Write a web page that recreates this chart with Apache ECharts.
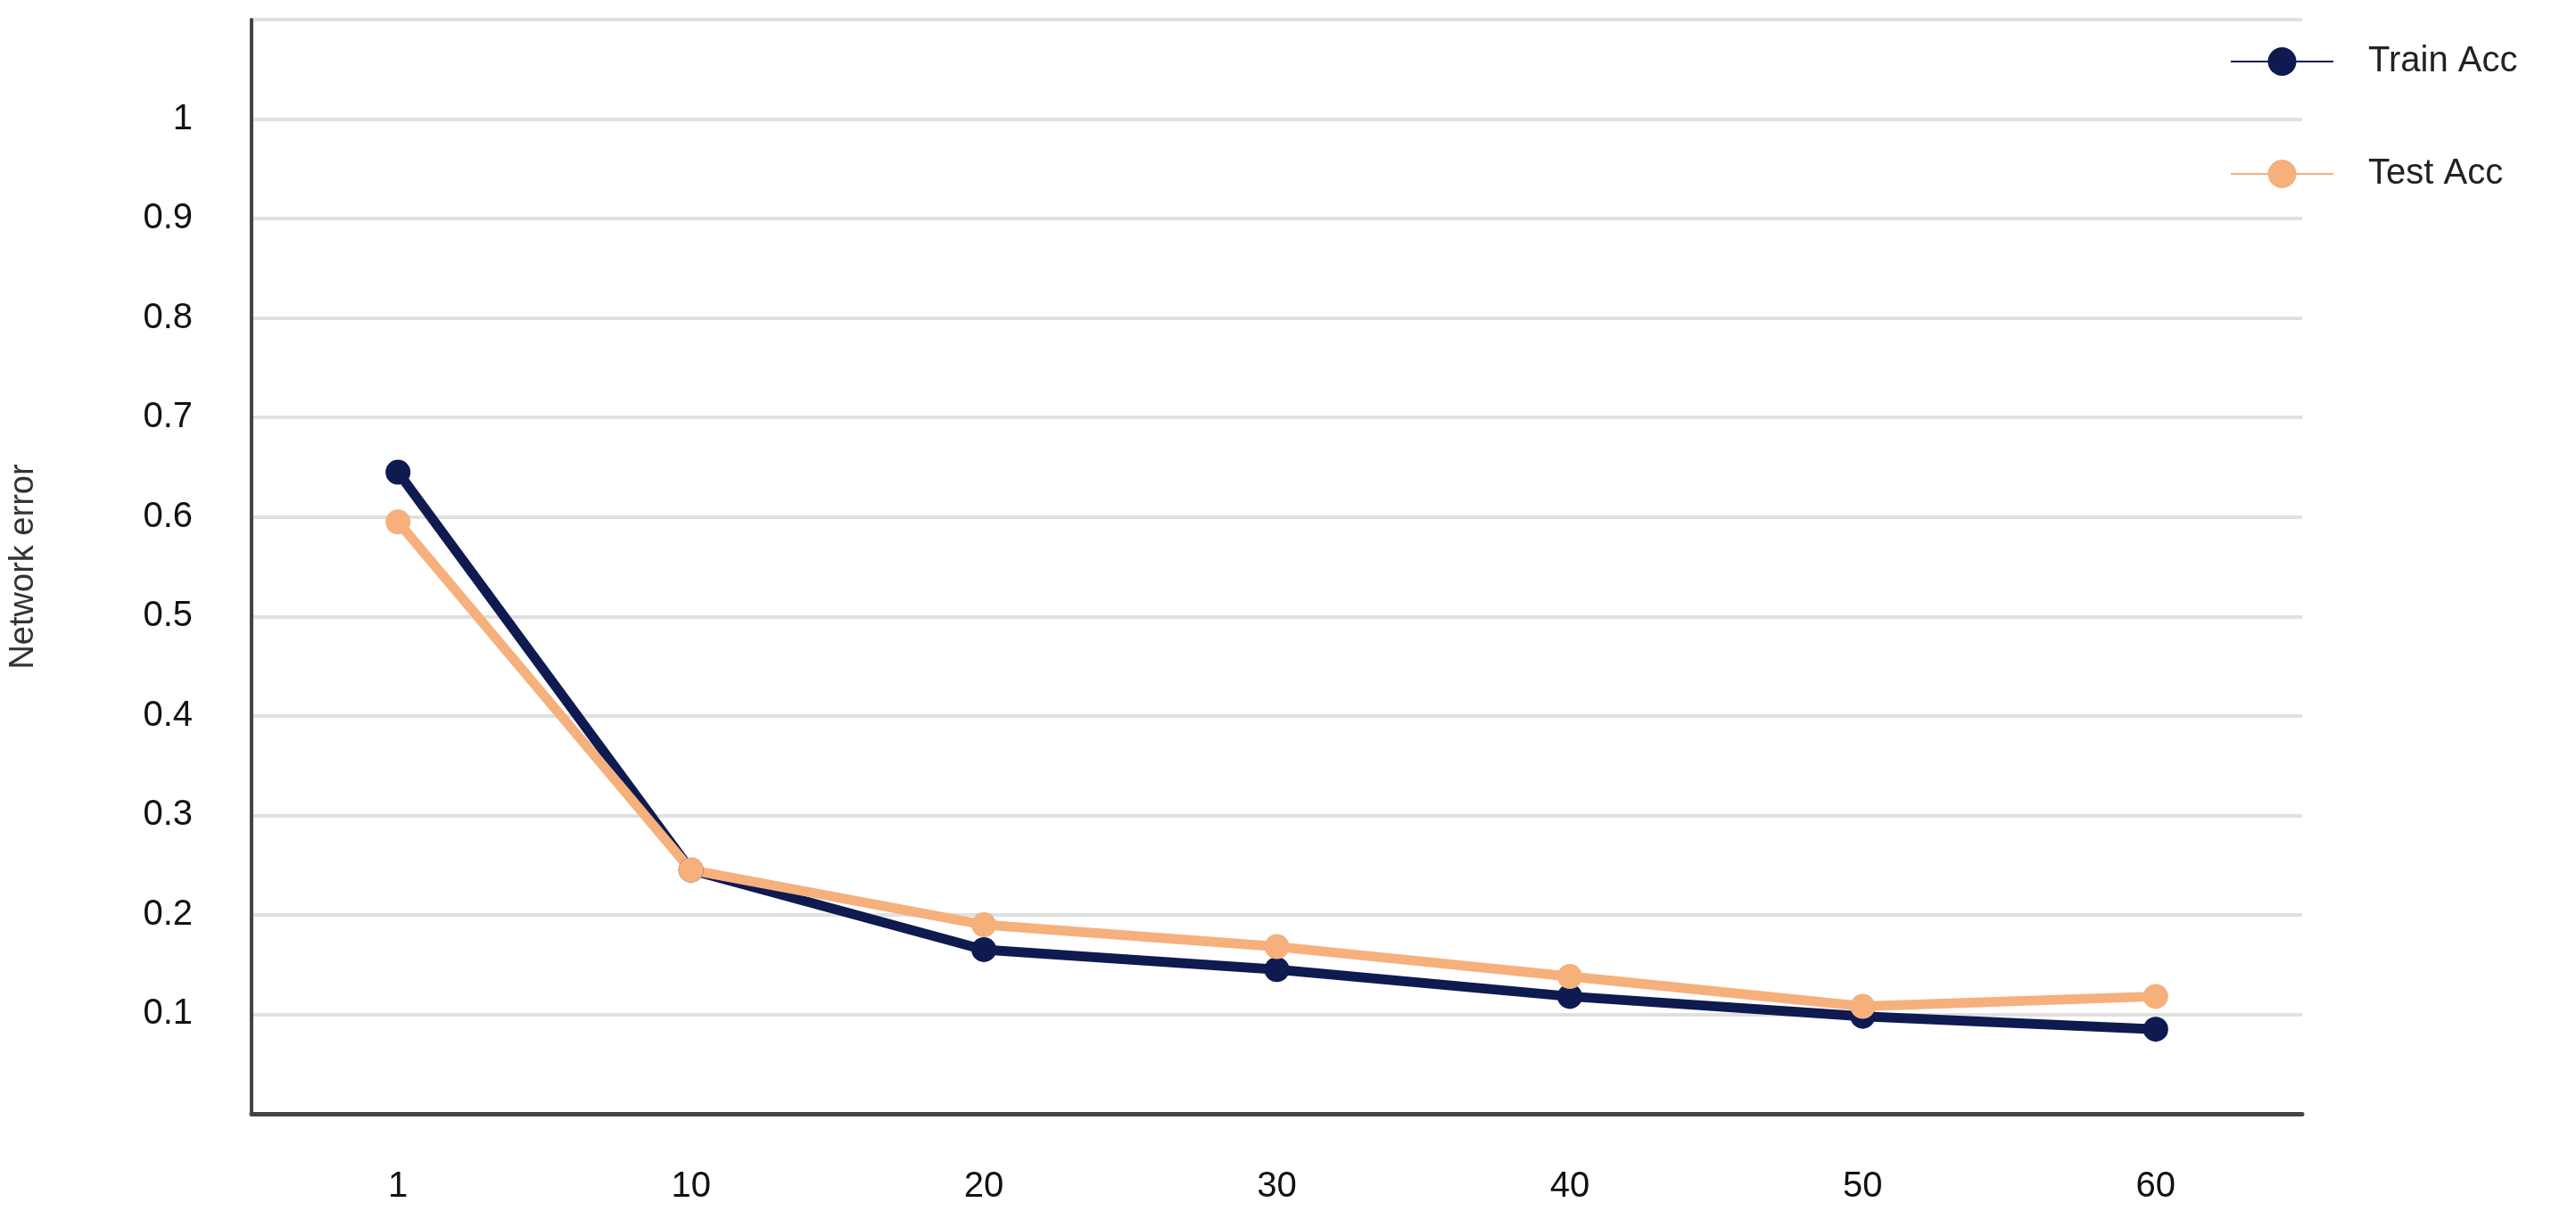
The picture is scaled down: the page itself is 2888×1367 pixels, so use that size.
<!DOCTYPE html>
<html><head><meta charset="utf-8">
<script src="https://cdn.jsdelivr.net/npm/echarts@6/dist/echarts.min.js"></script>
<style>html,body{margin:0;padding:0;background:#fff}#c{width:2888px;height:1367px}</style>
</head><body><div id="c"></div>
<script>
const categories = ['1','10','20','30','40','50','60'];
const trainAcc = [0.645, 0.245, 0.165, 0.145, 0.118, 0.098, 0.085];
const testAcc  = [0.595, 0.245, 0.19, 0.168, 0.138, 0.108, 0.118];
const yTicks = [0.1,0.2,0.3,0.4,0.5,0.6,0.7,0.8,0.9,1];

const chart = echarts.init(document.getElementById('c'));
const font = 'Liberation Sans, Arial, sans-serif';
chart.setOption({
  animation:false,
  grid:{left:273,right:307,top:22,bottom:118},
  legend:{
    orient:'vertical', left:2495, top:44, itemGap:86,
    itemWidth:115, itemHeight:40,
    textStyle:{fontSize:40,color:'#222',fontFamily:font,padding:[0,0,0,34]},
    data:['Train Acc','Test Acc']
  },
  xAxis:{
    type:'category', data:categories, boundaryGap:true,
    axisLine:{lineStyle:{color:'#444',width:5}},
    axisTick:{alignWithLabel:true,length:20,lineStyle:{color:'#444',width:3}},
    axisLabel:{fontSize:40,color:'#111',margin:62,fontFamily:font}
  },
  yAxis:{
    type:'value', min:0, max:1.1, interval:0.1,
    name:'Network error', nameLocation:'middle', nameGap:236, nameRotate:90,
    nameTextStyle:{fontSize:38,color:'#333',fontFamily:font},
    axisLine:{show:true,lineStyle:{color:'#444',width:4}},
    axisTick:{show:false},
    axisLabel:{fontSize:40,color:'#111',margin:66,fontFamily:font,
      formatter:v=>{const r=Math.round(v*10)/10; return yTicks.includes(r)?String(r):'';}},
    splitLine:{lineStyle:{color:'#e0e0e0',width:4}}
  },
  series:[
    {name:'Train Acc',type:'line',data:trainAcc,symbol:'circle',symbolSize:28,
     lineStyle:{width:11,color:'#0e1a50'},itemStyle:{color:'#0e1a50'}},
    {name:'Test Acc',type:'line',data:testAcc,symbol:'circle',symbolSize:28,
     lineStyle:{width:11,color:'#f6b07c'},itemStyle:{color:'#f6b07c'}}
  ]
});
</script></body></html>
